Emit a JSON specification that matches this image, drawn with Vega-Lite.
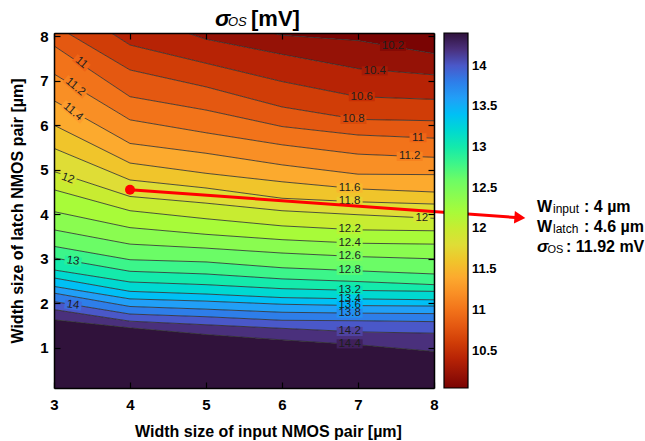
{
"$schema":"https://vega.github.io/schema/vega-lite/v6.json",
"width":380,"height":355,
"autosize":{"type":"none"},
"padding":{"left":54,"top":33,"right":211,"bottom":53},
"background":"white",
"config":{"font":"Liberation Sans","view":{"stroke":null}},
"datasets":{
"contours":[
{"lev":10.0,"x":3,"y":12},{"lev":10.0,"x":4,"y":12},{"lev":10.0,"x":5,"y":12},{"lev":10.0,"x":6,"y":12},{"lev":10.0,"x":7,"y":12},{"lev":10.0,"x":8,"y":12},
{"lev":10.2,"x":3,"y":10.0},{"lev":10.2,"x":4,"y":9.0},{"lev":10.2,"x":5,"y":8.4},{"lev":10.2,"x":6,"y":8.02},{"lev":10.2,"x":7,"y":7.90},{"lev":10.2,"x":8,"y":7.61},
{"lev":10.4,"x":3,"y":9.5},{"lev":10.4,"x":4,"y":8.5},{"lev":10.4,"x":5,"y":7.93},{"lev":10.4,"x":6,"y":7.59},{"lev":10.4,"x":7,"y":7.27},{"lev":10.4,"x":8,"y":7.13},
{"lev":10.6,"x":3,"y":8.9},{"lev":10.6,"x":4,"y":7.80},{"lev":10.6,"x":5,"y":7.39},{"lev":10.6,"x":6,"y":6.98},{"lev":10.6,"x":7,"y":6.64},{"lev":10.6,"x":8,"y":6.58},
{"lev":10.8,"x":3,"y":8.25},{"lev":10.8,"x":4,"y":7.24},{"lev":10.8,"x":5,"y":6.86},{"lev":10.8,"x":6,"y":6.41},{"lev":10.8,"x":7,"y":6.13},{"lev":10.8,"x":8,"y":6.10},
{"lev":11.0,"x":3,"y":7.78},{"lev":11.0,"x":4,"y":6.64},{"lev":11.0,"x":5,"y":6.34},{"lev":11.0,"x":6,"y":5.97},{"lev":11.0,"x":7,"y":5.78},{"lev":11.0,"x":8,"y":5.71},
{"lev":11.2,"x":3,"y":7.15},{"lev":11.2,"x":4,"y":6.12},{"lev":11.2,"x":5,"y":5.83},{"lev":11.2,"x":6,"y":5.56},{"lev":11.2,"x":7,"y":5.35},{"lev":11.2,"x":8,"y":5.28},
{"lev":11.4,"x":3,"y":6.55},{"lev":11.4,"x":4,"y":5.59},{"lev":11.4,"x":5,"y":5.37},{"lev":11.4,"x":6,"y":5.11},{"lev":11.4,"x":7,"y":4.90},{"lev":11.4,"x":8,"y":4.89},
{"lev":11.6,"x":3,"y":6.00},{"lev":11.6,"x":4,"y":5.15},{"lev":11.6,"x":5,"y":4.92},{"lev":11.6,"x":6,"y":4.73},{"lev":11.6,"x":7,"y":4.57},{"lev":11.6,"x":8,"y":4.50},
{"lev":11.8,"x":3,"y":5.48},{"lev":11.8,"x":4,"y":4.77},{"lev":11.8,"x":5,"y":4.59},{"lev":11.8,"x":6,"y":4.36},{"lev":11.8,"x":7,"y":4.28},{"lev":11.8,"x":8,"y":4.23},
{"lev":12.0,"x":3,"y":4.96},{"lev":12.0,"x":4,"y":4.40},{"lev":12.0,"x":5,"y":4.25},{"lev":12.0,"x":6,"y":4.08},{"lev":12.0,"x":7,"y":3.99},{"lev":12.0,"x":8,"y":3.91},
{"lev":12.2,"x":3,"y":4.55},{"lev":12.2,"x":4,"y":4.08},{"lev":12.2,"x":5,"y":3.90},{"lev":12.2,"x":6,"y":3.74},{"lev":12.2,"x":7,"y":3.65},{"lev":12.2,"x":8,"y":3.63},
{"lev":12.4,"x":3,"y":4.06},{"lev":12.4,"x":4,"y":3.70},{"lev":12.4,"x":5,"y":3.55},{"lev":12.4,"x":6,"y":3.43},{"lev":12.4,"x":7,"y":3.35},{"lev":12.4,"x":8,"y":3.33},
{"lev":12.6,"x":3,"y":3.65},{"lev":12.6,"x":4,"y":3.33},{"lev":12.6,"x":5,"y":3.24},{"lev":12.6,"x":6,"y":3.13},{"lev":12.6,"x":7,"y":3.05},{"lev":12.6,"x":8,"y":3.00},
{"lev":12.8,"x":3,"y":3.28},{"lev":12.8,"x":4,"y":2.98},{"lev":12.8,"x":5,"y":2.93},{"lev":12.8,"x":6,"y":2.80},{"lev":12.8,"x":7,"y":2.73},{"lev":12.8,"x":8,"y":2.66},
{"lev":13.0,"x":3,"y":3.02},{"lev":13.0,"x":4,"y":2.72},{"lev":13.0,"x":5,"y":2.66},{"lev":13.0,"x":6,"y":2.55},{"lev":13.0,"x":7,"y":2.49},{"lev":13.0,"x":8,"y":2.42},
{"lev":13.2,"x":3,"y":2.75},{"lev":13.2,"x":4,"y":2.48},{"lev":13.2,"x":5,"y":2.42},{"lev":13.2,"x":6,"y":2.33},{"lev":13.2,"x":7,"y":2.29},{"lev":13.2,"x":8,"y":2.27},
{"lev":13.4,"x":3,"y":2.57},{"lev":13.4,"x":4,"y":2.27},{"lev":13.4,"x":5,"y":2.21},{"lev":13.4,"x":6,"y":2.13},{"lev":13.4,"x":7,"y":2.10},{"lev":13.4,"x":8,"y":2.08},
{"lev":13.6,"x":3,"y":2.38},{"lev":13.6,"x":4,"y":2.10},{"lev":13.6,"x":5,"y":2.05},{"lev":13.6,"x":6,"y":1.98},{"lev":13.6,"x":7,"y":1.95},{"lev":13.6,"x":8,"y":1.94},
{"lev":13.8,"x":3,"y":2.23},{"lev":13.8,"x":4,"y":1.93},{"lev":13.8,"x":5,"y":1.87},{"lev":13.8,"x":6,"y":1.80},{"lev":13.8,"x":7,"y":1.78},{"lev":13.8,"x":8,"y":1.77},
{"lev":14.0,"x":3,"y":2.04},{"lev":14.0,"x":4,"y":1.76},{"lev":14.0,"x":5,"y":1.70},{"lev":14.0,"x":6,"y":1.62},{"lev":14.0,"x":7,"y":1.61},{"lev":14.0,"x":8,"y":1.59},
{"lev":14.2,"x":3,"y":1.86},{"lev":14.2,"x":4,"y":1.60},{"lev":14.2,"x":5,"y":1.52},{"lev":14.2,"x":6,"y":1.44},{"lev":14.2,"x":7,"y":1.36},{"lev":14.2,"x":8,"y":1.33},
{"lev":14.4,"x":3,"y":1.63},{"lev":14.4,"x":4,"y":1.45},{"lev":14.4,"x":5,"y":1.30},{"lev":14.4,"x":6,"y":1.18},{"lev":14.4,"x":7,"y":1.07},{"lev":14.4,"x":8,"y":0.92},
{"lev":14.6,"x":3,"y":-2},{"lev":14.6,"x":4,"y":-2},{"lev":14.6,"x":5,"y":-2},{"lev":14.6,"x":6,"y":-2},{"lev":14.6,"x":7,"y":-2},{"lev":14.6,"x":8,"y":-2}
],
"labels":[
{"g":"flat","t":"10.2","lev":10.2,"x":7.46,"y":7.77},
{"g":"flat","t":"10.4","lev":10.4,"x":7.22,"y":7.22},
{"g":"flat","t":"10.6","lev":10.6,"x":7.05,"y":6.64},
{"g":"flat","t":"10.8","lev":10.8,"x":6.94,"y":6.13},
{"g":"flat","t":"11","lev":11.0,"x":7.79,"y":5.72},
{"g":"flat","t":"11.2","lev":11.2,"x":7.68,"y":5.30},
{"g":"flat","t":"11.6","lev":11.6,"x":6.89,"y":4.59},
{"g":"flat","t":"11.8","lev":11.8,"x":6.89,"y":4.29},
{"g":"flat","t":"12","lev":12.0,"x":7.84,"y":3.92},
{"g":"flat","t":"12.2","lev":12.2,"x":6.89,"y":3.66},
{"g":"flat","t":"12.4","lev":12.4,"x":6.89,"y":3.36},
{"g":"flat","t":"12.6","lev":12.6,"x":6.89,"y":3.06},
{"g":"flat","t":"12.8","lev":12.8,"x":6.89,"y":2.74},
{"g":"flat","t":"13.2","lev":13.2,"x":6.89,"y":2.29},
{"g":"flat","t":"13.4","lev":13.4,"x":6.89,"y":2.10},
{"g":"flat","t":"13.6","lev":13.6,"x":6.89,"y":1.96},
{"g":"flat","t":"13.8","lev":13.8,"x":6.89,"y":1.78},
{"g":"flat","t":"14.2","lev":14.2,"x":6.89,"y":1.37},
{"g":"flat","t":"14.4","lev":14.4,"x":6.89,"y":1.09},
{"g":"steep","t":"11","lev":11.0,"x":3.36,"y":7.40},
{"g":"steep","t":"11.2","lev":11.2,"x":3.28,"y":6.86},
{"g":"steep","t":"11.4","lev":11.4,"x":3.25,"y":6.30},
{"g":"mid","t":"12","lev":12.0,"x":3.18,"y":4.80},
{"g":"low","t":"13","lev":13.0,"x":3.25,"y":2.95},
{"g":"low","t":"14","lev":14.0,"x":3.25,"y":1.96}
],
"ann":[
{"k":"main","t":"W","x":9.355,"y":4.061},
{"k":"sub","t":"input","x":9.566,"y":4.04},
{"k":"main","t":": 4 µm","x":9.974,"y":4.061},
{"k":"main","t":"W","x":9.355,"y":3.612},
{"k":"sub","t":"latch","x":9.566,"y":3.59},
{"k":"main","t":": 4.6 µm","x":9.974,"y":3.612},
{"k":"sig","t":"σ","x":9.355,"y":3.164},
{"k":"osub","t":"OS","x":9.493,"y":3.142},
{"k":"main","t":": 11.92 mV","x":9.737,"y":3.164},
{"k":"tsig","t":"σ","x":5.118,"y":8.224},
{"k":"tsub","t":"OS","x":5.289,"y":8.224},
{"k":"tmain","t":"[mV]","x":5.592,"y":8.224}
]
},
"layer":[
{
"data":{"name":"contours"},
"transform":[{"window":[{"op":"lead","field":"y","as":"y_next"}],"groupby":["x"],"sort":[{"field":"lev","order":"ascending"}]},{"filter":"datum.y_next != null"}],
"mark":{"type":"area","clip":true},
"encoding":{
"x":{"field":"x","type":"quantitative","scale":{"domain":[3,8],"nice":false,"zero":false},
"axis":{"orient":"bottom","values":[3,4,5,6,7,8],"tickSize":-6,"tickColor":"black","tickWidth":1.2,"labelPadding":15,"labelFontSize":15,"labelFontWeight":"bold","labelColor":"black","labelFont":"Liberation Sans","labelFlush":false,"domain":true,"domainColor":"black","domainWidth":1.5,"grid":false,"title":"Width size of input NMOS pair [µm]","titleFont":"Liberation Sans","titleFontSize":16,"titleFontWeight":"bold","titleColor":"black","titleX":214,"titleY":48,"titleBaseline":"alphabetic","zindex":1}},
"y":{"field":"y","type":"quantitative","scale":{"domain":[0.1,8.07],"nice":false,"zero":false},
"axis":{"orient":"left","values":[1,2,3,4,5,6,7,8],"tickSize":-6,"tickColor":"black","tickWidth":1.2,"labelPadding":12,"labelFontSize":15,"labelFontWeight":"bold","labelColor":"black","labelFont":"Liberation Sans","labelFlush":false,"domain":true,"domainColor":"black","domainWidth":1.5,"grid":false,"title":"Width size of latch NMOS pair [µm]","titleFont":"Liberation Sans","titleFontSize":16,"titleFontWeight":"bold","titleColor":"black","titleX":-37,"titleBaseline":"middle","titleAngle":-90,"zindex":1}},
"y2":{"field":"y_next"},
"detail":{"field":"lev","type":"nominal"},
"color":{"field":"lev","type":"quantitative","scale":{"domain":[10.04,10.476,10.912,11.348,11.784,12.22,12.656,13.092,13.528,13.964,14.4],"range":["#7a0403","#c42a03","#ef6617","#fea331","#e1dc37","#a4fc3b","#61fc6c","#1ae4b6","#28abfa","#4560d7","#30123b"],"clamp":true},
"legend":{"type":"gradient","title":null,"orient":"right","offset":9,"padding":0,"direction":"vertical","gradientLength":355,"gradientThickness":24,"gradientStrokeColor":"black","gradientStrokeWidth":1.2,"labelFontSize":13,"labelFontWeight":"bold","labelColor":"black","labelFont":"Liberation Sans","labelOffset":4,"values":[10.5,11,11.5,12,12.5,13,13.5,14],"format":".3~g","labelOverlap":false}}
}
},
{
"data":{"name":"contours"},
"transform":[{"filter":{"field":"lev","range":[10.1,14.5]}}],
"mark":{"type":"line","stroke":"#2a2a2a","strokeWidth":0.8,"clip":true},
"encoding":{
"x":{"field":"x","type":"quantitative","axis":{"orient":"top","values":[3,4,5,6,7,8],"labels":false,"tickSize":-6,"tickColor":"black","tickWidth":1.2,"domain":true,"domainColor":"black","domainWidth":1.5,"grid":false,"title":null,"zindex":1}},
"y":{"field":"y","type":"quantitative","axis":{"orient":"right","values":[1,2,3,4,5,6,7,8],"labels":false,"tickSize":-6,"tickColor":"black","tickWidth":1.2,"domain":true,"domainColor":"black","domainWidth":1.5,"grid":false,"title":null,"zindex":1}},
"detail":{"field":"lev","type":"nominal"}
}
},
{
"data":{"name":"labels"},
"transform":[{"filter":"datum.g == 'flat' && length(datum.t) > 2"}],
"mark":{"type":"point","shape":"M-1,-0.35H1V0.35H-1Z","size":676,"filled":true,"opacity":1,"clip":true},
"encoding":{"x":{"field":"x","type":"quantitative","axis":null},"y":{"field":"y","type":"quantitative","axis":null},
"fill":{"field":"lev","type":"quantitative","scale":{"domain":[10.14,10.576,11.012,11.448,11.884,12.32,12.756,13.192,13.628,14.064,14.5],"range":["#7a0403","#c42a03","#ef6617","#fea331","#e1dc37","#a4fc3b","#61fc6c","#1ae4b6","#28abfa","#4560d7","#30123b"],"clamp":true},"legend":null}}
},
{
"data":{"name":"labels"},
"transform":[{"filter":"datum.g == 'flat' && length(datum.t) <= 2"}],
"mark":{"type":"point","shape":"M-1,-0.53H1V0.53H-1Z","size":289,"filled":true,"opacity":1,"clip":true},
"encoding":{"x":{"field":"x","type":"quantitative","axis":null},"y":{"field":"y","type":"quantitative","axis":null},
"fill":{"field":"lev","type":"quantitative","legend":null}}
},
{
"data":{"name":"labels"},
"transform":[{"filter":"datum.g == 'steep' && length(datum.t) > 2"}],
"mark":{"type":"point","shape":"M-1,-0.35H1V0.35H-1Z","size":676,"filled":true,"opacity":1,"clip":true,"angle":40},
"encoding":{"x":{"field":"x","type":"quantitative","axis":null},"y":{"field":"y","type":"quantitative","axis":null},
"fill":{"field":"lev","type":"quantitative","legend":null}}
},
{
"data":{"name":"labels"},
"transform":[{"filter":"datum.g == 'steep' && length(datum.t) <= 2"}],
"mark":{"type":"point","shape":"M-1,-0.53H1V0.53H-1Z","size":289,"filled":true,"opacity":1,"clip":true,"angle":40},
"encoding":{"x":{"field":"x","type":"quantitative","axis":null},"y":{"field":"y","type":"quantitative","axis":null},
"fill":{"field":"lev","type":"quantitative","legend":null}}
},
{
"data":{"name":"labels"},
"transform":[{"filter":"datum.g == 'mid'"}],
"mark":{"type":"point","shape":"M-1,-0.53H1V0.53H-1Z","size":289,"filled":true,"opacity":1,"clip":true,"angle":20},
"encoding":{"x":{"field":"x","type":"quantitative","axis":null},"y":{"field":"y","type":"quantitative","axis":null},
"fill":{"field":"lev","type":"quantitative","legend":null}}
},
{
"data":{"name":"labels"},
"transform":[{"filter":"datum.g == 'low'"}],
"mark":{"type":"point","shape":"M-1,-0.53H1V0.53H-1Z","size":289,"filled":true,"opacity":1,"clip":true,"angle":8},
"encoding":{"x":{"field":"x","type":"quantitative","axis":null},"y":{"field":"y","type":"quantitative","axis":null},
"fill":{"field":"lev","type":"quantitative","legend":null}}
},
{
"data":{"name":"labels"},
"transform":[{"filter":"datum.g == 'flat'"}],
"mark":{"type":"text","fontSize":11.5,"font":"Liberation Sans","fill":"#1e1e1e","clip":true},
"encoding":{"x":{"field":"x","type":"quantitative","axis":null},"y":{"field":"y","type":"quantitative","axis":null},"text":{"field":"t"}}
},
{
"data":{"name":"labels"},
"transform":[{"filter":"datum.g == 'steep'"}],
"mark":{"type":"text","fontSize":11.5,"font":"Liberation Sans","fill":"#1e1e1e","clip":true,"angle":40},
"encoding":{"x":{"field":"x","type":"quantitative","axis":null},"y":{"field":"y","type":"quantitative","axis":null},"text":{"field":"t"}}
},
{
"data":{"name":"labels"},
"transform":[{"filter":"datum.g == 'mid'"}],
"mark":{"type":"text","fontSize":11.5,"font":"Liberation Sans","fill":"#1e1e1e","clip":true,"angle":20},
"encoding":{"x":{"field":"x","type":"quantitative","axis":null},"y":{"field":"y","type":"quantitative","axis":null},"text":{"field":"t"}}
},
{
"data":{"name":"labels"},
"transform":[{"filter":"datum.g == 'low'"}],
"mark":{"type":"text","fontSize":11.5,"font":"Liberation Sans","fill":"#1e1e1e","clip":true,"angle":8},
"encoding":{"x":{"field":"x","type":"quantitative","axis":null},"y":{"field":"y","type":"quantitative","axis":null},"text":{"field":"t"}}
},
{
"data":{"values":[{"x":4,"y":4.55},{"x":9.07,"y":3.93}]},
"mark":{"type":"line","color":"#ff0000","strokeWidth":3,"clip":false},
"encoding":{"x":{"field":"x","type":"quantitative","axis":null},"y":{"field":"y","type":"quantitative","axis":null}}
},
{
"data":{"values":[{"x":4,"y":4.55}]},
"mark":{"type":"point","filled":true,"color":"#ff0000","size":100,"opacity":1,"clip":false},
"encoding":{"x":{"field":"x","type":"quantitative","axis":null},"y":{"field":"y","type":"quantitative","axis":null}}
},
{
"data":{"values":[{"x":9.13,"y":3.925}]},
"mark":{"type":"point","shape":"triangle-right","filled":true,"color":"#ff0000","size":160,"opacity":1,"angle":4,"clip":false},
"encoding":{"x":{"field":"x","type":"quantitative","axis":null},"y":{"field":"y","type":"quantitative","axis":null}}
},
{
"data":{"name":"ann"},
"transform":[{"filter":"datum.k == 'main'"}],
"mark":{"type":"text","align":"left","baseline":"alphabetic","font":"Liberation Sans","fontSize":16,"fontWeight":"bold","fill":"black","clip":false},
"encoding":{"x":{"field":"x","type":"quantitative","axis":null},"y":{"field":"y","type":"quantitative","axis":null},"text":{"field":"t"}}
},
{
"data":{"name":"ann"},
"transform":[{"filter":"datum.k == 'sub'"}],
"mark":{"type":"text","align":"left","baseline":"alphabetic","font":"Liberation Sans","fontSize":12,"fill":"black","clip":false},
"encoding":{"x":{"field":"x","type":"quantitative","axis":null},"y":{"field":"y","type":"quantitative","axis":null},"text":{"field":"t"}}
},
{
"data":{"name":"ann"},
"transform":[{"filter":"datum.k == 'osub'"}],
"mark":{"type":"text","align":"left","baseline":"alphabetic","font":"Liberation Sans","fontSize":11,"fill":"black","clip":false},
"encoding":{"x":{"field":"x","type":"quantitative","axis":null},"y":{"field":"y","type":"quantitative","axis":null},"text":{"field":"t"}}
},
{
"data":{"name":"ann"},
"transform":[{"filter":"datum.k == 'sig'"}],
"mark":{"type":"text","align":"left","baseline":"alphabetic","font":"Liberation Sans","fontSize":17,"fontWeight":"bold","fontStyle":"italic","fill":"black","clip":false},
"encoding":{"x":{"field":"x","type":"quantitative","axis":null},"y":{"field":"y","type":"quantitative","axis":null},"text":{"field":"t"}}
},
{
"data":{"name":"ann"},
"transform":[{"filter":"datum.k == 'tsig'"}],
"mark":{"type":"text","align":"left","baseline":"alphabetic","font":"Liberation Sans","fontSize":23,"fontWeight":"bold","fontStyle":"italic","fill":"black","clip":false},
"encoding":{"x":{"field":"x","type":"quantitative","axis":null},"y":{"field":"y","type":"quantitative","axis":null},"text":{"field":"t"}}
},
{
"data":{"name":"ann"},
"transform":[{"filter":"datum.k == 'tsub'"}],
"mark":{"type":"text","align":"left","baseline":"alphabetic","font":"Liberation Sans","fontSize":13,"fontStyle":"italic","fill":"black","clip":false},
"encoding":{"x":{"field":"x","type":"quantitative","axis":null},"y":{"field":"y","type":"quantitative","axis":null},"text":{"field":"t"}}
},
{
"data":{"name":"ann"},
"transform":[{"filter":"datum.k == 'tmain'"}],
"mark":{"type":"text","align":"left","baseline":"alphabetic","font":"Liberation Sans","fontSize":22,"fontWeight":"bold","fill":"black","clip":false},
"encoding":{"x":{"field":"x","type":"quantitative","axis":null},"y":{"field":"y","type":"quantitative","axis":null},"text":{"field":"t"}}
}
],
"resolve":{"axis":{"x":"independent","y":"independent"}}
}
